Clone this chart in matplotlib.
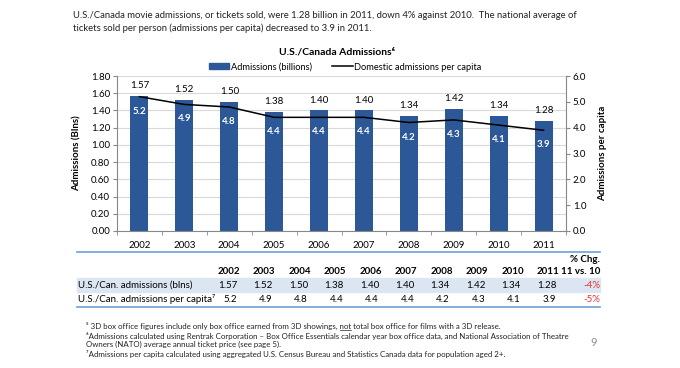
import matplotlib
matplotlib.use("Agg")
import matplotlib.pyplot as plt
import numpy as np
from matplotlib.lines import Line2D
from matplotlib.patches import Patch, Rectangle
from matplotlib.ticker import FormatStrFormatter, FixedLocator

plt.rcParams['font.family'] = ['Lato', 'DejaVu Sans']

years = [2002, 2003, 2004, 2005, 2006, 2007, 2008, 2009, 2010, 2011]
admissions = [1.57, 1.52, 1.50, 1.38, 1.40, 1.40, 1.34, 1.42, 1.34, 1.28]
per_capita = [5.2, 4.9, 4.8, 4.4, 4.4, 4.4, 4.2, 4.3, 4.1, 3.9]
pct_chg = ['-4%', '-5%']
row_labels = ['U.S./Can. admissions (blns)', 'U.S./Can. admissions per capita\u2077']

bar_color = '#2c5897'
rule_color = '#6f9fd8'
W, H = 680, 368


def fx(x):
    return x / W


def fy(y):
    return 1 - y / H


fig = plt.figure(figsize=(6.8, 3.68), dpi=100)

# intro text
fig.text(fx(73), fy(15), "U.S./Canada movie admissions, or tickets sold, were 1.28 billion in 2011, down 4% against 2010.  "
         "The national average of", fontsize=6.8, va='center', color='#222222')
fig.text(fx(73), fy(28), "tickets sold per person (admissions per capita) decreased to 3.9 in 2011.",
         fontsize=6.8, va='center', color='#222222')

fig.text(fx(337), fy(52), "U.S./Canada Admissions\u2076", fontsize=7.5, fontweight='bold',
         ha='center', va='center')

# chart
ax = fig.add_axes([fx(117), fy(231), (566 - 117) / W, (231 - 76) / H])
x = np.arange(len(years))
ax.bar(x, admissions, width=0.4, color=bar_color, zorder=2)
ax.set_xlim(-0.5, len(years) - 0.5)
ax.set_ylim(0, 1.8)
ax.set_yticks(np.arange(0, 1.81, 0.2))
ax.yaxis.set_major_formatter(FormatStrFormatter('%.2f'))
ax.grid(axis='y', color='#d9d9d9', lw=0.8, zorder=0)
ax.set_xticks(x, years)
ax.xaxis.set_minor_locator(FixedLocator(np.arange(-0.5, len(years), 1)))
ax.tick_params(axis='x', which='major', length=0, pad=7, labelsize=7)
ax.tick_params(axis='x', which='minor', length=3, color='#888888')
ax.tick_params(axis='y', length=3, color='#888888', labelsize=7, pad=2)
for s in ['top', 'right']:
    ax.spines[s].set_visible(False)
for s in ['left', 'bottom']:
    ax.spines[s].set_color('#888888')
ax.set_ylabel('Admissions (Blns)', fontsize=7, fontweight='bold')
ax.yaxis.set_label_coords(-0.078, 0.5)

for i, v in enumerate(admissions):
    ax.annotate(f'{v:.2f}', (i, v), xytext=(0, 7.5), textcoords='offset points',
                ha='center', va='center', fontsize=7)

ax2 = ax.twinx()
ax2.plot(x, per_capita, color='black', lw=1.1, zorder=3)
ax2.set_ylim(0, 6)
ax2.set_yticks(np.arange(0, 6.1, 1))
ax2.yaxis.set_major_formatter(FormatStrFormatter('%.1f'))
ax2.tick_params(axis='y', length=3, color='#888888', labelsize=7, pad=2)
for s in ['top', 'left', 'bottom']:
    ax2.spines[s].set_visible(False)
ax2.spines['right'].set_color('#888888')
ax2.set_ylabel('Admissions per capita', fontsize=7, fontweight='bold')
ax2.yaxis.set_label_coords(1.071, 0.5)

for i, v in enumerate(per_capita):
    ax2.annotate(f'{v:.1f}', (i, v), xytext=(0, -10.5), textcoords='offset points',
                 ha='center', va='center', fontsize=7, color='white', fontweight='bold')

handles = [Patch(color=bar_color, label='Admissions (billions)'),
           Line2D([], [], color='black', lw=1.1, label='Domestic admissions per capita')]
fig.legend(handles=handles, loc='center', bbox_to_anchor=(fx(345), fy(67)), ncol=2,
           frameon=False, fontsize=6.7, handlelength=2.2, handleheight=0.6,
           columnspacing=2.2, handletextpad=0.15, borderaxespad=0, borderpad=0)

# table
fig.add_artist(Rectangle((fx(77), fy(292)), (600 - 77) / W, 14 / H, color='#dce6f2',
                         transform=fig.transFigure, zorder=0))
for yy in (252, 307):
    fig.add_artist(Line2D([fx(77), fx(600)], [fy(yy), fy(yy)], color=rule_color, lw=1.2))

tfs = 7.0
col_right = [240 + 35.5 * i for i in range(len(years))]
fig.text(fx(600), fy(260), '% Chg.', fontsize=tfs, fontweight='bold', ha='right', va='center')
fig.text(fx(600), fy(271), '11 vs. 10', fontsize=tfs, fontweight='bold', ha='right', va='center')
for cx, yr in zip(col_right, years):
    fig.text(fx(cx), fy(271), str(yr), fontsize=tfs, fontweight='bold', ha='right', va='center')
rows = [[f'{v:.2f}' for v in admissions], [f'{v:.1f}' for v in per_capita]]
for ry, lab, vals, chg in zip([285, 299.5], row_labels, rows, pct_chg):
    fig.text(fx(78), fy(ry), lab, fontsize=tfs, va='center')
    for cx, v in zip(col_right, vals):
        fig.text(fx(cx - 3), fy(ry), v, fontsize=tfs, ha='right', va='center')
    fig.text(fx(600), fy(ry), chg, fontsize=tfs, ha='right', va='center', color='#e8312f')

# footnotes
nfs = 5.7
pre = "\u2075 3D box office figures include only box office earned from 3D showings, "
notes = [
    pre + "not total box office for films with a 3D release.",
    "\u2076Admissions calculated using Rentrak Corporation \u2013 Box Office Essentials calendar year box office data, and National Association of Theatre",
    "Owners (NATO) average annual ticket price (see page 5).",
    "\u2077Admissions per capita calculated using aggregated U.S. Census Bureau and Statistics Canada data for population aged 2+.",
]
for yy, t in zip([326, 335.5, 344.5, 353.5], notes):
    fig.text(fx(86), fy(yy), t, fontsize=nfs, va='center', color='#222222')

# underline "not" in the first footnote
renderer = fig.canvas.get_renderer()
t_pre = fig.text(fx(86), fy(326), pre.rstrip(), fontsize=nfs, va='center', alpha=0)
t_not = fig.text(fx(86), fy(326), pre + "not", fontsize=nfs, va='center', alpha=0)
x0 = (t_pre.get_window_extent(renderer).x1 + 2) / fig.bbox.width
x1 = t_not.get_window_extent(renderer).x1 / fig.bbox.width
fig.add_artist(Line2D([x0, x1], [fy(330), fy(330)], color='#222222', lw=0.5))

fig.text(fx(594), fy(342), '9', fontsize=8, color='#8c8c8c', ha='center', va='center')

fig.savefig('out.png', dpi=100)
